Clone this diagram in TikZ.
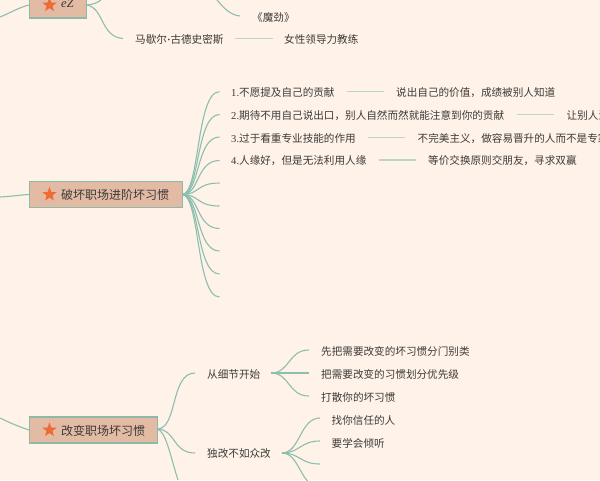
\documentclass[tikz,border=0pt]{standalone}
\usepackage{fontspec}
\setmainfont{Noto Sans CJK SC}
\newfontfamily\latinf{Liberation Serif}
\definecolor{bgc}{HTML}{FFF2E8}
\definecolor{linec}{HTML}{8CBFAF}
\definecolor{stemc}{HTML}{BAD6C7}
\definecolor{boxf}{HTML}{E3BBA5}
\definecolor{boxd}{HTML}{8DB9A6}
\definecolor{starc}{HTML}{EE6B33}
\definecolor{txt}{HTML}{3C3A38}
\usetikzlibrary{shapes.geometric}
\tikzset{
 conn/.style={draw=linec,line width=1.1pt},
 stem/.style={draw=stemc,line width=1.7pt},
 topic/.style={draw=boxd,fill=boxf,line width=1.3pt,minimum height=26pt,inner sep=0pt,text=txt,font=\fontsize{12}{12}\selectfont},
 leaf/.style={anchor=west,inner sep=0pt,text=txt,font=\fontsize{10.6}{12}\selectfont},
 starshape/.style={star,star points=5,star point ratio=2.4,fill=starc,minimum size=15pt,inner sep=0pt},
}
\begin{document}
\begin{tikzpicture}[x=1pt,y=-1pt]
\fill[bgc] (0,0) rectangle (600,480);
\useasboundingbox (0,0) rectangle (600,480);
\clip (0,0) rectangle (600,480);
% top topic
\node[topic,minimum width=56.5pt,anchor=west] (t0) at (29,5) {};
\node[starshape] (s0) at (49.5,5) {};
\node[anchor=west,text=txt,font=\fontsize{12.5}{12}\selectfont\latinf\itshape,inner sep=0pt] (t0l) at (61,3) {eZ};
\coordinate (t0e) at (85.5,5);
\coordinate (off0) at (0,17);
\draw[conn] (off0) .. controls (10,13) and (20,7) .. (t0.west);
\coordinate (b0a) at (101,0);
\draw[conn] (t0e) .. controls (92,5) and (97,3) .. (b0a);
\node[leaf] (mj) at (252,17) {《魔劲》};
\coordinate (mja) at (240,16);
\coordinate (mjb) at (217,0);
\draw[conn] (mjb) .. controls (224,8) and (230,15) .. (mja);
\node[leaf] (ms) at (135,39) {马歇尔{\latinf\bfseries ·}古德史密斯};
\coordinate (msa) at (123,38.5);
\draw[conn] (t0e) .. controls (104,6) and (100,37) .. (msa);
\coordinate (msb) at (235,38.5);
\coordinate (msc) at (273,38.5);
\draw[stem] (msb) -- (msc);
\node[leaf] (msl) at (284,39) {女性领导力教练};
% second topic
\node[topic,anchor=west,minimum width=153pt] (t1) at (29,194.5) {};
\node[starshape] (s1) at (49.5,194.5) {};
\node[leaf,font=\fontsize{12}{12}\selectfont] (t1l) at (61,195) {破坏职场进阶坏习惯};
\coordinate (off1) at (0,197);
\draw[conn] (off1) .. controls (10,196.5) and (20,195) .. (t1.west);
\coordinate (r1) at (182,194.5);
\foreach \n/\y in {a/91.7,b/114.5,c/137,d/160.5,e/183,f/206,g/228.5,h/251,i/274,j/297}{
  \coordinate (e\n) at (219.5,\y);
  \draw[conn] (r1) .. controls (200,194.5) and (196,\y) .. (e\n);
}
\node[leaf] (n1) at (231,92.5) {{\latinf 1.}不愿提及自己的贡献};
\coordinate (a1) at (346.5,91.5);
\coordinate (a2) at (384,91.5);
\draw[stem] (a1) -- (a2);
\node[leaf] (m1) at (396,92.5) {说出自己的价值，成绩被别人知道};
\node[leaf] (n2) at (231,115.5) {{\latinf 2.}期待不用自己说出口，别人自然而然就能注意到你的贡献};
\coordinate (b1) at (517,114.5);
\coordinate (b2) at (554,114.5);
\draw[stem] (b1) -- (b2);
\node[leaf] (m2) at (566.5,115.5) {让别人注};
\node[leaf] (n3) at (231,138.5) {{\latinf 3.}过于看重专业技能的作用};
\coordinate (c1) at (368,137.5);
\coordinate (c2) at (405,137.5);
\draw[stem] (c1) -- (c2);
\node[leaf] (m3) at (417.5,138.5) {不完美主义，做容易晋升的人而不是专家};
\node[leaf] (n4) at (231,161) {{\latinf 4.}人缘好，但是无法利用人缘};
\coordinate (d1) at (378.5,160);
\coordinate (d2) at (416,160);
\draw[stem] (d1) -- (d2);
\node[leaf] (m4) at (428,161) {等价交换原则交朋友，寻求双赢};
% third topic
\node[topic,anchor=west,minimum width=128pt] (t2) at (29,430) {};
\node[starshape] (s2) at (49.5,430) {};
\node[leaf,font=\fontsize{12}{12}\selectfont] (t2l) at (61,430.5) {改变职场坏习惯};
\coordinate (off2) at (0,418);
\draw[conn] (off2) .. controls (10,423) and (20,427) .. (t2.west);
\coordinate (r2) at (157,429);
\coordinate (u1) at (195,373);
\coordinate (u2) at (195,453);
\coordinate (u3) at (178,480);
\draw[conn] (r2) .. controls (178,429) and (170,373) .. (u1);
\draw[conn] (r2) .. controls (176,429) and (172,453) .. (u2);
\draw[conn] (r2) .. controls (166,431) and (170,455) .. (u3);
\node[leaf] (x1) at (207,374) {从细节开始};
\node[leaf] (x2) at (207,453.5) {独改不如众改};
\coordinate (h1) at (271,373);
\coordinate (h2) at (282,453);
\foreach \y [count=\i] in {350,373,396}{
  \coordinate (p\i) at (309,\y);
  \draw[conn] (h1) .. controls (290,373) and (288,\y) .. (p\i);
}
\foreach \y [count=\i] in {418,441,464,487}{
  \coordinate (q\i) at (320,\y);
  \draw[conn] (h2) .. controls (300,453) and (300,\y) .. (q\i);
}
\node[leaf] (y1) at (321,351.5) {先把需要改变的坏习惯分门别类};
\node[leaf] (y2) at (321,374) {把需要改变的习惯划分优先级};
\node[leaf] (y3) at (321,397) {打散你的坏习惯};
\node[leaf] (z1) at (331.5,420) {找你信任的人};
\node[leaf] (z2) at (331.5,443) {要学会倾听};
\end{tikzpicture}
\end{document}
